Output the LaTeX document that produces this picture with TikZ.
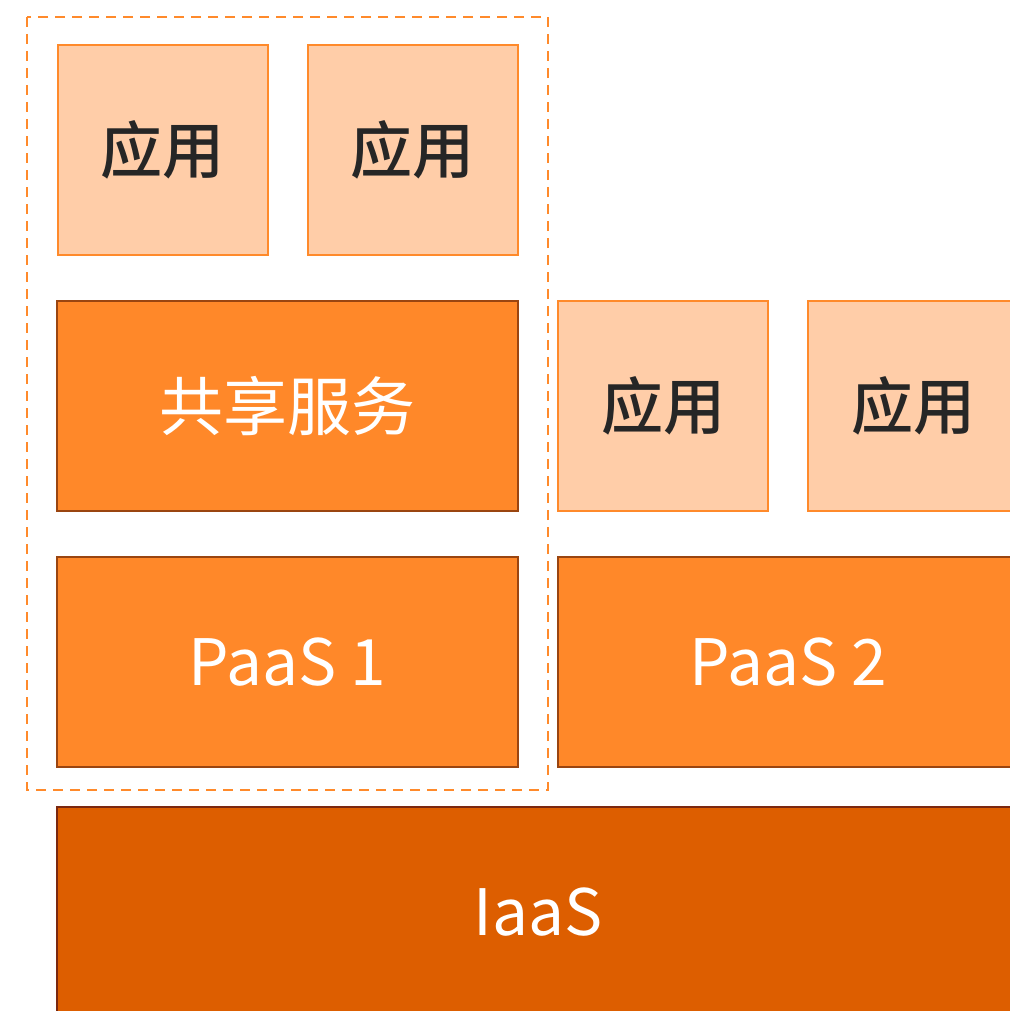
\documentclass[tikz,border=0pt]{standalone}
\usepackage{fontspec}
\setmainfont{Noto Sans CJK SC}
\newfontfamily\cjk{Noto Sans CJK SC}[BoldFont={Noto Sans CJK SC Medium}]
\usepackage{tikz}
\usetikzlibrary{backgrounds}
\definecolor{appfill}{HTML}{FFCDA8}
\definecolor{appline}{HTML}{FF8A2B}
\definecolor{midfill}{HTML}{FF8829}
\definecolor{midline}{HTML}{9A4510}
\definecolor{basefill}{HTML}{DD5E00}
\definecolor{baseline}{HTML}{7A2810}
\definecolor{apptext}{HTML}{262626}
\tikzstyle{layers}=[x=0.5pt, y=-0.5pt, font=\cjk]
\tikzstyle{app}=[rectangle, draw=appline, fill=appfill, line width=1pt, minimum width=105pt, minimum height=105pt, text=apptext, font=\cjk\bfseries\fontsize{31}{31}\selectfont]
\tikzstyle{svc}=[rectangle, draw=midline, fill=midfill, line width=1pt, minimum height=105pt, text=white, font=\cjk\fontsize{32}{32}\selectfont]
\tikzstyle{base}=[rectangle, draw=baseline, fill=basefill, line width=1pt, minimum height=105pt, text=white, font=\cjk\fontsize{32}{32}\selectfont]
\tikzstyle{group}=[draw=appline, line width=1pt, dash pattern=on 5pt off 3.5pt]
\begin{document}
\begin{tikzpicture}[layers]
	\useasboundingbox (0,0) rectangle (1010,1011);
	\clip (0,0) rectangle (1010,1011);

	%The shared platform group
	\draw (162.5,150) node[app] (app1) {应用};
	\draw (412.5,150) node[app] (app2) {应用};
	\draw (287.5,406) node[svc, minimum width=230.5pt] (shared) {共享服务};
	\draw (287.5,662) node[svc, minimum width=230.5pt] (paas1) {PaaS 1};
	\draw[group] (27,17) rectangle (548,790);

	%The second platform
	\draw (663,406) node[app] (app3) {应用};
	\draw (913,406) node[app] (app4) {应用};
	\draw (788.5,662) node[svc, minimum width=230.5pt] (paas2) {PaaS 2};

	%The infrastructure
	\draw (538,912) node[base, minimum width=481pt] (iaas) {IaaS};
\end{tikzpicture}
\end{document}
